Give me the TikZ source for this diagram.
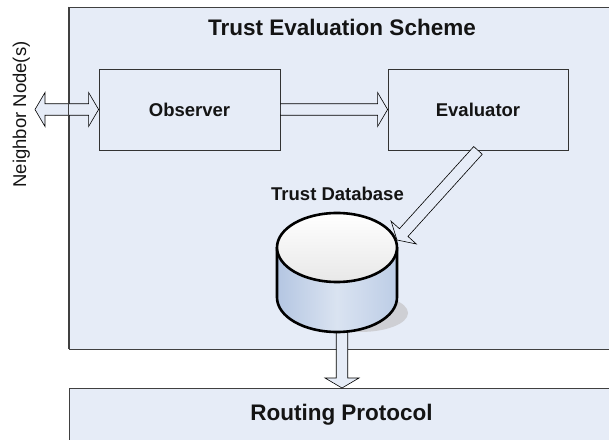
\documentclass[tikz,border=0pt]{standalone}
\usepackage{fontspec}
\setmainfont{Liberation Sans}
\usetikzlibrary{calc}
\definecolor{boxfill}{RGB}{230,236,247}
\definecolor{dbL}{RGB}{180,198,226}
\definecolor{dbM}{RGB}{218,227,241}
\definecolor{dbR}{RGB}{188,205,230}
\definecolor{shadowc}{RGB}{206,207,212}
\definecolor{txt}{RGB}{20,20,20}
\newcommand\blockarrow[2]{%
  \coordinate (ba-h) at ($(#2)!10pt!(#1)$);
  \draw[blk] ($(#1)!5.75pt!90:(#2)$) -- ($(ba-h)!5.75pt!90:(#2)$) -- ($(ba-h)!17pt!90:(#2)$)
    -- (#2) -- ($(ba-h)!17pt!-90:(#2)$) -- ($(ba-h)!5.75pt!-90:(#2)$) -- ($(#1)!5.75pt!-90:(#2)$) -- cycle;}
\newcommand\dblblockarrow[2]{%
  \coordinate (da-a) at ($(#1)!10pt!(#2)$);
  \coordinate (da-b) at ($(#2)!10pt!(#1)$);
  \draw[blk] (#1) -- ($(da-a)!17pt!-90:(#2)$) -- ($(da-a)!5.75pt!-90:(#2)$) -- ($(da-b)!5.75pt!90:(#1)$)
    -- ($(da-b)!17pt!90:(#1)$) -- (#2) -- ($(da-b)!17pt!-90:(#1)$) -- ($(da-b)!5.75pt!-90:(#1)$)
    -- ($(da-a)!5.75pt!90:(#2)$) -- ($(da-a)!17pt!90:(#2)$) -- cycle;}
\begin{document}
\begin{tikzpicture}[x=1pt,y=1pt,
  panel/.style={draw=black!75, line width=0.9pt, fill=boxfill, inner sep=0pt},
  unit/.style={draw=black!80, line width=0.8pt, fill=boxfill, minimum width=181pt, minimum height=81pt,
    inner sep=0pt, text=txt, font=\bfseries\fontsize{18.5}{20}\selectfont},
  blk/.style={draw=black, line width=0.6pt, fill=boxfill, line join=miter},
  lbl/.style={anchor=base, inner sep=0pt, text=txt, font=\bfseries\fontsize{18.5}{20}\selectfont},
  ttl/.style={anchor=base, inner sep=0pt, text=txt, font=\bfseries\fontsize{22.5}{24}\selectfont},
  dbline/.style={draw=black, line width=2.6pt}
]
\useasboundingbox (0,0) rectangle (609,439);
\clip (0,0) rectangle (609,439);
% panels
\node[panel, minimum width=541pt, minimum height=342pt] (scheme) at (339.5,261) {};
\node[panel, minimum width=541pt, minimum height=61pt] (routing) at (339.5,20.5) {};
% units
\node[unit] (obs) at (189.5,329.5) {Observer};
\node[unit, minimum width=180pt] (eval) at (478,329.5) {Evaluator};
% neighbour double arrow
\coordinate (nbrpt) at (35,329.5);
\dblblockarrow{nbrpt}{obs.west}
\draw[draw=black!75, line width=0.9pt] (scheme.north west) -- (scheme.south west);
% observer -> evaluator
\blockarrow{obs.east}{eval.west}
% database -> routing
\coordinate (dbout) at (342,120);
\coordinate (rtin) at (342,51);
\blockarrow{dbout}{rtin}
% database cylinder
\coordinate (dbtop) at (337,191.5);
\coordinate (dbbot) at (337,141.5);
\fill[shadowc] (360,126) ellipse [x radius=48pt, y radius=19pt];
\shade[left color=dbL, right color=dbR, middle color=dbM]
  (277,191.5) -- (277,141.5) arc[start angle=180, end angle=360, x radius=60pt, y radius=34.5pt]
  -- (397,191.5) arc[start angle=0, end angle=-180, x radius=60pt, y radius=34.5pt] -- cycle;
\draw[dbline] (277,191.5) -- (277,141.5) arc[start angle=180, end angle=360, x radius=60pt, y radius=34.5pt]
  -- (397,191.5);
\shade[top color=white, bottom color=black!9] (dbtop) ellipse [x radius=60pt, y radius=34.5pt];
\draw[dbline] (dbtop) ellipse [x radius=60pt, y radius=34.5pt];
% evaluator -> database
\coordinate (dbin) at (397,199);
\blockarrow{eval.south}{dbin}
% labels
\node[ttl] (title) at (342,403) {Trust Evaluation Scheme};
\node[lbl] (dblabel) at (337.5,238) {Trust Database};
\node[ttl] (rtlabel) at (341.5,19) {Routing Protocol};
\node[rotate=90, anchor=base, inner sep=0pt, text=txt, font=\fontsize{18.5}{20}\selectfont] (nbr) at (26,324.5) {Neighbor Node(s)};
\end{tikzpicture}
\end{document}
